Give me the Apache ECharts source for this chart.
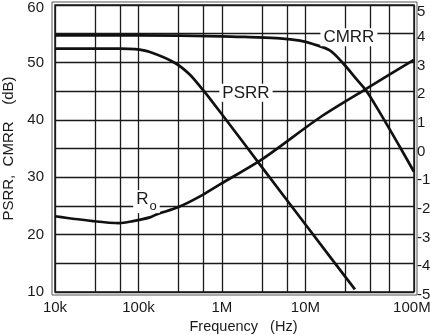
<!DOCTYPE html>
<html><head><meta charset="utf-8">
<script src="https://cdn.jsdelivr.net/npm/echarts@6/dist/echarts.min.js"></script>
<style>html,body{margin:0;padding:0;background:#fff}#c{width:430px;height:335px}</style>
</head><body><div id="c"></div>
<script>
// ---- axis ticks ----
const freqTicks = [1e4, 1e5, 1e6, 1e7, 1e8];
const freqTickLabels = ['10k', '100k', '1M', '10M', '100M'];
const minorGridFreqs = [3e4, 6e4, 3e5, 6e5, 3e6, 6e6, 3e7, 6e7];
const freqAxisMin = 1e4;
const freqAxisMax = 2e8;
const rightTickValues = [5, 4, 3, 2, 1, 0, -1, -2, -3, -4, -5];
const rightTickLabels = ['5', '4', '3', '2', '1', '0', '-1', '-2', '-3', '-4', '-5'];

// ---- CMRR (dB, left axis) ----
const cmrrFreq = [1e4, 1e5, 1e6, 2.16e6, 4.95e6, 8.6e6, 1.23e7, 1.96e7, 2.81e7, 4.14e7, 5.46e7, 7.8e7, 1.28e8, 1.99e8];
const cmrrDb   = [54.7, 54.7, 54.55, 54.4, 54.2, 53.8, 53.2, 52.1, 49.9, 47.0, 44.9, 41.25, 35.9, 31.0];

// ---- PSRR (dB, left axis) ----
const psrrFreq = [1e4, 6e4, 9.1e4, 1.37e5, 2.74e5, 4.14e5, 5.92e5, 7.8e5, 1.15e6, 3.01e6, 1.04e7, 3.92e7];
const psrrDb   = [52.4, 52.4, 52.3, 51.8, 49.9, 47.85, 45.2, 43.0, 39.8, 31.75, 21.45, 10.45];

// ---- Ro (right axis) ----
const roFreq = [1e4, 2.85e4, 5.84e4, 8.6e4, 1.37e5, 1.67e5, 2.97e5, 5.46e5, 9.46e5, 3.01e6, 1.49e7, 5.16e7, 1.99e8];
const roVal  = [-2.36, -2.53, -2.6, -2.53, -2.4, -2.29, -2.05, -1.67, -1.25, -0.38, 1.08, 2.05, 3.09];

const FONT = '"Liberation Sans", Arial, Helvetica, sans-serif';
const ink = '#1a1a1a';
const zip = (a, b) => a.map((v, i) => [v, b[i]]);
const gridLine = { color: ink, width: 1.3 };

const chart = echarts.init(document.getElementById('c'));
chart.setOption({
  animation: false,
  backgroundColor: '#fff',
  textStyle: { fontFamily: FONT, color: ink },
  grid: [
    { left: 55, top: 5, right: 16, bottom: 43, show: true, borderColor: ink, borderWidth: 1.5, backgroundColor: 'transparent', containLabel: false, outerBoundsMode: 'none' },
    { left: 52, top: 2, right: 13, bottom: 40, show: true, borderColor: '#555', borderWidth: 1, backgroundColor: 'transparent', containLabel: false, outerBoundsMode: 'none' }
  ],
  xAxis: [
    {
      type: 'log', logBase: 10, min: freqAxisMin, max: freqAxisMax, gridIndex: 0,
      axisLine: { show: false }, axisTick: { show: false },
      splitLine: { show: true, lineStyle: gridLine },
      axisLabel: {
        margin: 8, fontSize: 15, color: ink, fontFamily: FONT,
        showMinLabel: true, showMaxLabel: true,
        formatter: function (v) {
          const i = freqTicks.findIndex(t => Math.abs(Math.log10(v) - Math.log10(t)) < 1e-6);
          if (i < 0) return '';
          return i === freqTicks.length - 1 ? '{s|' + freqTickLabels[i] + '}' : freqTickLabels[i];
        },
        rich: { s: { fontSize: 15, color: ink, fontFamily: FONT, padding: [0, 0, 0, 46] } }
      },
      name: 'Frequency   (Hz)', nameLocation: 'middle', nameGap: 23,
      nameTextStyle: { fontSize: 14.5, color: ink, fontFamily: FONT, padding: [0, 0, 0, 18] }
    },
    { type: 'value', gridIndex: 1, show: false }
  ],
  yAxis: [
    {
      type: 'value', min: 10, max: 60, interval: 5, gridIndex: 0,
      axisLine: { show: false }, axisTick: { show: false },
      splitLine: { show: true, lineStyle: gridLine },
      axisLabel: {
        margin: 11, fontSize: 15, color: ink, fontFamily: FONT,
        formatter: v => (v % 10 === 0 ? (v === 60 ? '{t|60}' : String(v)) : ''),
        rich: { t: { fontSize: 15, color: ink, fontFamily: FONT, padding: [6, 0, 0, 0] } }
      },
      name: 'PSRR,  CMRR    (dB)', nameLocation: 'middle', nameGap: 29,
      nameTextStyle: { fontSize: 15, color: ink, fontFamily: FONT }
    },
    {
      type: 'value', min: -5, max: 5, interval: 1, gridIndex: 0, position: 'right',
      axisLine: { show: false }, axisTick: { show: false }, splitLine: { show: false },
      axisLabel: {
        margin: 3, fontSize: 15, color: ink, fontFamily: FONT,
        formatter: function (v) {
          const i = rightTickValues.indexOf(Math.round(v));
          if (i < 0) return '';
          return (i === 0 ? '{t|' : '{r|') + rightTickLabels[i] + '}';
        },
        rich: {
          t: { fontSize: 15, color: ink, fontFamily: FONT, padding: [14, 0, 0, 0] },
          r: { fontSize: 15, color: ink, fontFamily: FONT, padding: [6, 0, 0, 0] }
        }
      }
    },
    { type: 'value', gridIndex: 1, show: false }
  ],
  series: [
    {
      name: 'CMRR', type: 'line', xAxisIndex: 0, yAxisIndex: 0,
      data: zip(cmrrFreq, cmrrDb), smooth: 0.3, symbol: 'none',
      lineStyle: { color: '#111', width: 2.7 },
      markLine: {
        silent: true, z: 1, symbol: ['none', 'none'], label: { show: false },
        lineStyle: { color: ink, width: 1.3, type: 'solid' },
        emphasis: { disabled: true },
        data: minorGridFreqs.map(f => ({ xAxis: f }))
      },
      markPoint: {
        silent: true, z: 10, symbolSize: 0,
        data: [{ coord: [3.32e7, 54.4] }],
        label: { show: true, position: 'inside', formatter: 'CMRR', fontSize: 17, color: ink, fontFamily: FONT, backgroundColor: '#fff', padding: [1, 3, 0, 3] }
      }
    },
    {
      name: 'PSRR', type: 'line', xAxisIndex: 0, yAxisIndex: 0,
      data: zip(psrrFreq, psrrDb), smooth: 0.25, symbol: 'none',
      lineStyle: { color: '#111', width: 2.7 },
      markPoint: {
        silent: true, z: 10, symbolSize: 0,
        data: [{ coord: [1.94e6, 44.7] }],
        label: { show: true, position: 'inside', formatter: 'PSRR', fontSize: 17, color: ink, fontFamily: FONT, backgroundColor: '#fff', padding: [1, 3, 0, 3] }
      }
    },
    {
      name: 'Ro', type: 'line', xAxisIndex: 0, yAxisIndex: 1,
      data: zip(roFreq, roVal), smooth: 0.3, symbol: 'none',
      lineStyle: { color: '#111', width: 2.7 },
      markPoint: {
        silent: true, z: 10, symbolSize: 0,
        data: [{ coord: [1.247e5, -1.85] }],
        label: {
          show: true, position: 'inside', formatter: '{a|R}{b|o}',
          backgroundColor: '#fff', padding: [1, 3, 0, 3],
          rich: {
            a: { fontSize: 17, color: ink, fontFamily: FONT, verticalAlign: 'top' },
            b: { fontSize: 13, color: ink, fontFamily: FONT, padding: [9, 0, 0, 1] }
          }
        }
      }
    }
  ]
});
</script>
</body></html>
